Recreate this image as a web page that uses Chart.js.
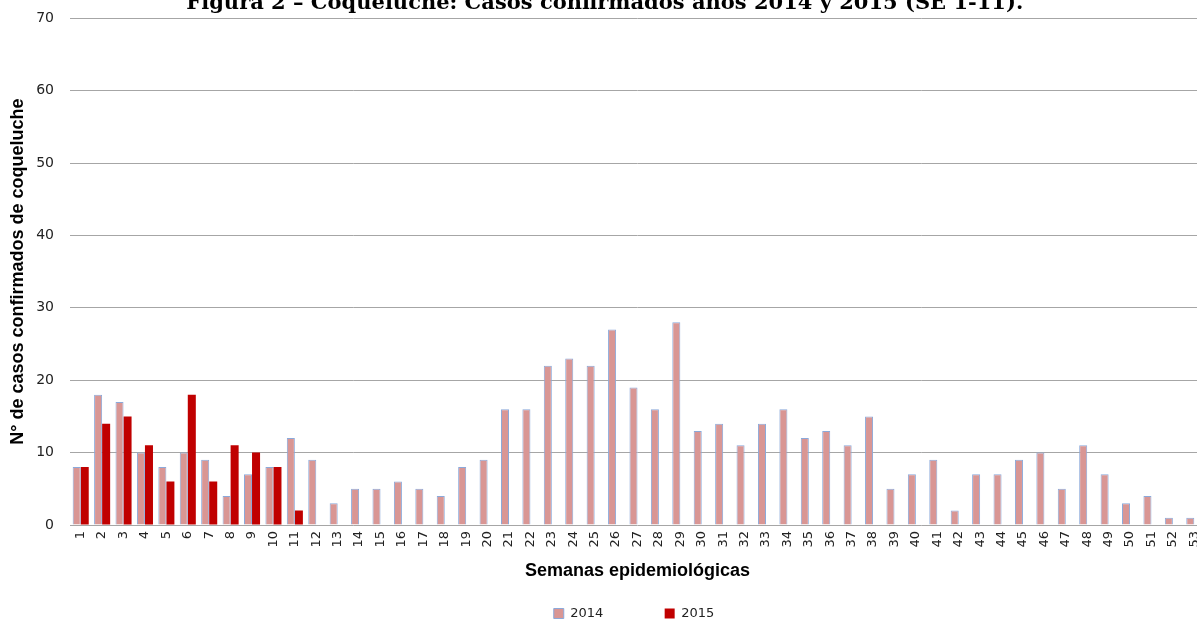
<!DOCTYPE html>
<html>
<head>
<meta charset="utf-8">
<script src="https://cdn.jsdelivr.net/npm/chart.js@4/dist/chart.umd.min.js"></script>
<style>
  html, body { margin: 0; padding: 0; background: #fff; overflow: hidden; width: 1197px; height: 621px; }
  #wrap { position: absolute; left: 0; top: -14px; width: 1268px; height: 644px; }
</style>
</head>
<body>
<div id="wrap"><canvas id="c" width="1268" height="644"></canvas></div>
<script>
const weeks = ['1','2','3','4','5','6','7','8','9','10','11','12','13','14','15','16','17','18','19','20',
  '21','22','23','24','25','26','27','28','29','30','31','32','33','34','35','36','37','38','39','40',
  '41','42','43','44','45','46','47','48','49','50','51','52','53'];
const cases2014 = [8,18,17,10,8,10,9,4,7,8,12,9,3,5,5,6,5,4,8,9,
  16,16,22,23,22,27,19,16,28,13,14,11,14,16,12,13,11,15,5,7,
  9,2,7,7,9,10,5,11,7,3,4,1,1];
const cases2015 = [8,14,15,11,6,18,6,11,10,8,2];
const yTicks = [0,10,20,30,40,50,60,70];

const titleText = 'Figura 2 \u2013 Coqueluche: Casos confirmados años 2014 y 2015 (SE 1-11).';
const NB = '\u00A0';

new Chart(document.getElementById('c'), {
  type: 'bar',
  data: {
    labels: weeks,
    datasets: [
      { label: '2014', data: cases2014, backgroundColor: '#D99694', borderColor: '#8BA9DA', borderWidth: 1,
        categoryPercentage: 0.75, barPercentage: 1.0 },
      { label: '2015', data: cases2015, backgroundColor: '#C00000', borderColor: '#C00000', borderWidth: 0,
        categoryPercentage: 0.75, barPercentage: 1.0 }
    ]
  },
  options: {
    responsive: false,
    animation: false,
    devicePixelRatio: 1,
    layout: { padding: 0 },
    plugins: {
      title: {
        display: true,
        text: titleText + NB.repeat(8),
        font: { family: 'DejaVu Serif', size: 21, weight: 'bold' },
        color: '#000',
        padding: { top: 5, bottom: 2 }
      },
      legend: {
        position: 'bottom',
        labels: {
          boxWidth: 10, boxHeight: 10, padding: 20,
          font: { family: 'DejaVu Sans', size: 13 },
          color: '#222',
          generateLabels: (chart) => {
            const items = Chart.defaults.plugins.legend.labels.generateLabels(chart);
            items[0].text = items[0].text + NB.repeat(10);
            return items;
          }
        }
      },
      tooltip: { enabled: false }
    },
    scales: {
      x: {
        grid: { display: false, drawTicks: false },
        border: { display: false },
        ticks: { autoSkip: false, maxRotation: 90, minRotation: 90, padding: 6,
          font: { family: 'DejaVu Sans', size: 13 }, color: '#222' },
        title: { display: true, text: 'Semanas epidemiológicas',
          font: { family: 'Liberation Sans', size: 18, weight: 'bold' }, color: '#000',
          padding: { top: 16, bottom: 5 } },
        afterFit: (s) => { s.paddingRight = 63; s.height = 62; }
      },
      y: {
        min: 0, max: 70,
        afterBuildTicks: (s) => { s.ticks = yTicks.map(v => ({ value: v })); },
        afterFit: (s) => { s.width = 70; },
        grid: { color: '#A6A6A6', lineWidth: 1, drawTicks: false },
        border: { display: false },
        ticks: { padding: 16, font: { family: 'DejaVu Sans', size: 14 }, color: '#222' },
        title: { display: true, text: 'N° de casos confirmados de coqueluche',
          font: { family: 'Liberation Sans', size: 18, weight: 'bold' }, color: '#000',
          padding: { top: 7, bottom: 11 } }
      }
    }
  }
});
</script>
</body>
</html>
